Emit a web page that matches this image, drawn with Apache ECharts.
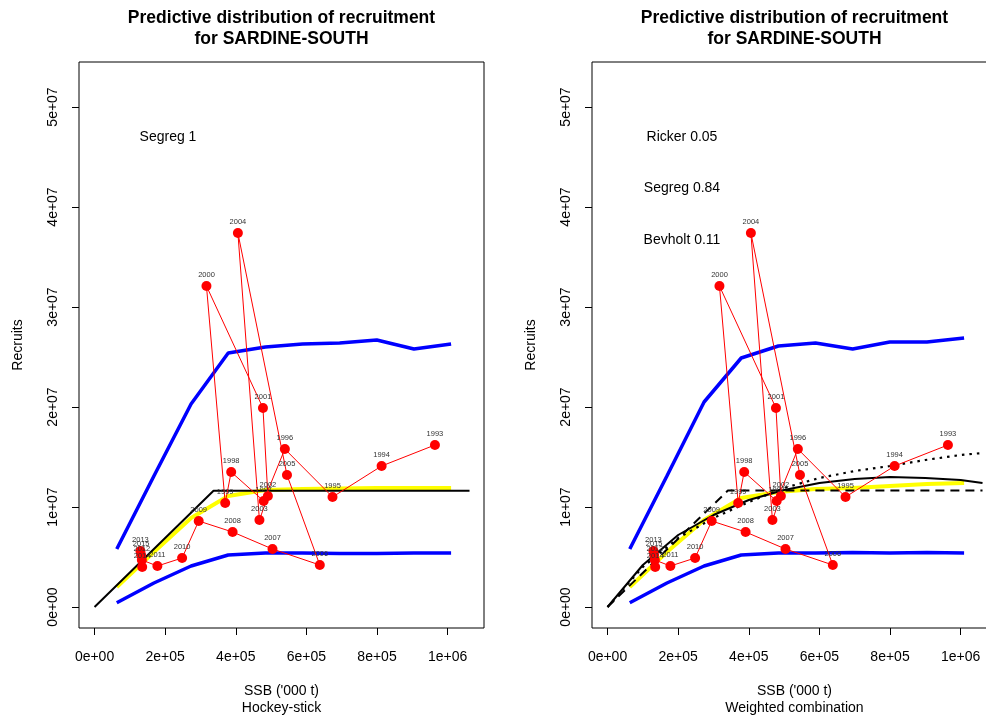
<!DOCTYPE html>
<html><head><meta charset="utf-8">
<script src="https://cdn.jsdelivr.net/npm/echarts@6/dist/echarts.min.js"></script>
<style>html,body{margin:0;padding:0;background:#fff}#c{width:986px;height:717px}</style>
</head><body><div id="c"></div>
<script>
// ---- observed stock-recruitment pairs ----
const years    = [1993,1994,1995,1996,1997,1998,1999,2000,2001,2002,2003,2004,2005,2006,2007,2008,2009,2010,2011,2012,2013,2014,2015];
const ssb      = [964000,813000,674000,539000,479000,387000,370000,317000,477000,491000,467000,406000,545000,638000,504000,391000,295000,248000,178000,134000,130000,135000,132000];
const recruits = [1.62e7,1.41e7,1.10e7,1.58e7,1.06e7,1.35e7,1.04e7,3.21e7,1.99e7,1.11e7,8.7e6,3.74e7,1.32e7,4.2e6,5.8e6,7.5e6,8.6e6,4.9e6,4.1e6,4.7e6,5.6e6,4.0e6,5.2e6];

// ---- SSB grid for predictive quantiles ----
const gridSSB = [63000,168200,273400,378600,483800,589000,694200,799400,904600,1009800];
// Hockey-stick panel
const hsUpper  = [5.8e6,1.31e7,2.03e7,2.54e7,2.60e7,2.63e7,2.64e7,2.67e7,2.58e7,2.63e7];
const hsLower  = [0.43e6,2.4e6,4.1e6,5.2e6,5.4e6,5.4e6,5.35e6,5.35e6,5.4e6,5.4e6];
const hsMedian = [2.0e6,5.5e6,8.9e6,1.11e7,1.17e7,1.18e7,1.185e7,1.19e7,1.19e7,1.19e7];
const hsFitSSB = [0,337000,1062000];
const hsFitRec = [0,1.163e7,1.163e7];
// Weighted combination panel
const wcUpper  = [5.8e6,1.31e7,2.05e7,2.49e7,2.61e7,2.64e7,2.58e7,2.65e7,2.65e7,2.69e7];
const wcLower  = [0.43e6,2.4e6,4.1e6,5.2e6,5.4e6,5.4e6,5.45e6,5.4e6,5.45e6,5.4e6];
const wcMedian = [2.0e6,5.5e6,8.7e6,1.09e7,1.15e7,1.18e7,1.19e7,1.21e7,1.23e7,1.24e7];
const modelSSB   = [0,100000,200000,300000,400000,500000,600000,700000,800000,900000,1000000,1062000];
const rickerRec  = [0,4.2e6,7.2e6,9.2e6,1.07e7,1.17e7,1.24e7,1.28e7,1.30e7,1.29e7,1.27e7,1.24e7];
const bevholtRec = [0,4.0e6,6.9e6,8.9e6,1.05e7,1.19e7,1.29e7,1.36e7,1.41e7,1.47e7,1.52e7,1.54e7];
const segregSSB  = [0,341000,1062000];
const segregRec  = [0,1.165e7,1.165e7];

// ---- ticks / texts ----
const xTicks = [0,200000,400000,600000,800000,1000000];
const xTickLabels = ['0e+00','2e+05','4e+05','6e+05','8e+05','1e+06'];
const yTicks = [0,1e7,2e7,3e7,4e7,5e7];
const yTickLabels = ['0e+00','1e+07','2e+07','3e+07','4e+07','5e+07'];
const titleLines = ['Predictive distribution of recruitment','for SARDINE-SOUTH'];
const xName = "SSB ('000 t)";
const yName = 'Recruits';
const panelSubs = ['Hockey-stick','Weighted combination'];
const leftModels = ['Segreg 1'];
const rightModels = ['Ricker 0.05','Segreg 0.84','Bevholt 0.11'];

const FF = '"Liberation Sans", Arial, Helvetica, sans-serif';
const zip = (a,b)=>a.map((v,i)=>[v,b[i]]);
const obs = zip(ssb,recruits);

const grids = [
  {left:79, top:62, width:405, height:566},
  {left:592, top:62, width:405, height:566}
];
const centers = [281.5, 794.5];

function xAx(i){return {type:'value',gridIndex:i,min:-44000,max:1103000,
  axisLine:{show:false,onZero:false},splitLine:{show:false},
  axisTick:{show:true,length:7,customValues:xTicks,lineStyle:{color:'#000',width:1}},
  axisLabel:{customValues:xTicks,margin:22,fontSize:14,color:'#000',fontFamily:FF,
    formatter:v=>xTickLabels[xTicks.indexOf(v)]}};}
function yAx(i){return {type:'value',gridIndex:i,min:-2.1e6,max:5.45e7,
  axisLine:{show:false,onZero:false},splitLine:{show:false},
  axisTick:{show:true,length:7,customValues:yTicks,lineStyle:{color:'#000',width:1}},
  axisLabel:{customValues:yTicks,rotate:90,margin:19,fontSize:14,color:'#000',fontFamily:FF,
    formatter:v=>yTickLabels[yTicks.indexOf(v)]}};}

function ln(i,data,color,width,type,z){return {type:'line',xAxisIndex:i,yAxisIndex:i,data,
  showSymbol:false,symbol:'none',silent:true,z:z||2,animation:false,
  lineStyle:{color,width,type:type||'solid',cap:'butt'}};}
function pts(i){return {type:'line',xAxisIndex:i,yAxisIndex:i,data:obs,z:10,animation:false,
  symbol:'circle',symbolSize:10,showSymbol:true,itemStyle:{color:'#ff0000'},
  lineStyle:{color:'#ff0000',width:1},
  label:{show:true,position:'top',distance:2,fontSize:7.5,color:'#333',fontFamily:FF,
    formatter:p=>String(years[p.dataIndex])}};}

const series = [
  ln(0,zip(gridSSB,hsUpper),'#0000ff',3.5),
  ln(0,zip(gridSSB,hsLower),'#0000ff',3.5),
  ln(0,zip(gridSSB,hsMedian),'#ffff00',4),
  ln(0,zip(hsFitSSB,hsFitRec),'#000',2,'solid',3),
  pts(0),
  ln(1,zip(gridSSB,wcUpper),'#0000ff',3.5),
  ln(1,zip(gridSSB,wcLower),'#0000ff',3.5),
  ln(1,zip(gridSSB,wcMedian),'#ffff00',4),
  ln(1,zip(modelSSB,rickerRec),'#000',2,'solid',3),
  ln(1,zip(segregSSB,segregRec),'#000',2,[9,6],3),
  ln(1,zip(modelSSB,bevholtRec),'#000',2.2,[2.5,5],3),
  pts(1)
];

const graphic = [];
function txt(x,y,text,font,rot){graphic.push({type:'text',x,y,rotation:rot||0,silent:true,
  style:{text,font,fill:'#000',textAlign:'center',textVerticalAlign:'middle',align:'center',verticalAlign:'middle'}});}
for(let i=0;i<2;i++){
  const cx=centers[i];
  txt(cx,18.5,titleLines[0],'bold 17.5px '+FF);
  txt(cx,39,titleLines[1],'bold 17.5px '+FF);
  txt(cx,691,xName,'14px '+FF);
  txt(cx,708,panelSubs[i],'14px '+FF);
  txt(grids[i].left-61,345,yName,'14px '+FF,Math.PI/2);
}
leftModels.forEach((t,j)=>txt(168,137+j*51.5,t,'14px '+FF));
rightModels.forEach((t,j)=>txt(682,137+j*51.5,t,'14px '+FF));

const chart = echarts.init(document.getElementById('c'),null,{renderer:'canvas'});
chart.setOption({
  animation:false,
  backgroundColor:'#fff',
  grid:grids.map(g=>Object.assign({show:true,borderColor:'#000',borderWidth:1,backgroundColor:'transparent',containLabel:false,outerBoundsMode:'none'},g)),
  xAxis:[xAx(0),xAx(1)],
  yAxis:[yAx(0),yAx(1)],
  series,
  graphic
});
</script></body></html>
